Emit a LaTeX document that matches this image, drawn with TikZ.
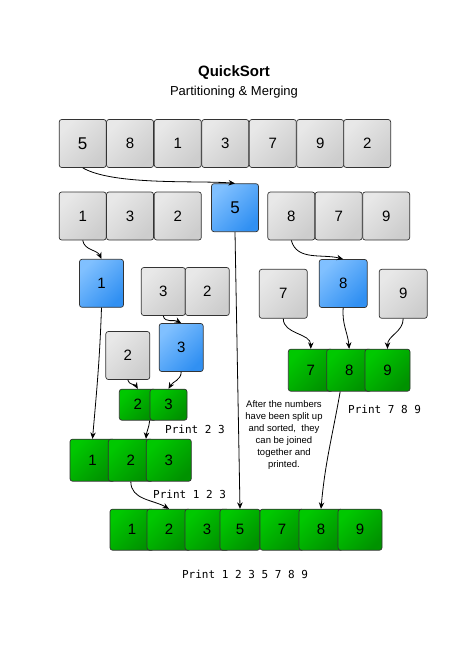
\documentclass[tikz,border=0pt]{standalone}
\usepackage{fontspec}
\setsansfont{Liberation Sans}
\setmonofont{DejaVu Sans Mono}
\usetikzlibrary{arrows.meta}
\definecolor{greylight}{HTML}{E8E8E8}
\definecolor{greydark}{HTML}{CDCDCD}
\definecolor{bluelight}{HTML}{80C0FF}
\definecolor{bluedark}{HTML}{3190F2}
\definecolor{greenlight}{HTML}{00C800}
\definecolor{greendark}{HTML}{009200}
\definecolor{boxline}{HTML}{333333}
\tikzset{
    box/.style={rectangle, rounded corners=2.5pt, draw=boxline, line width=.7pt,
    	inner sep=0pt, font=\sffamily\fontsize{15}{18}\selectfont},
    greybox/.style={box, top color=greylight, bottom color=greydark, shading angle=45},
    bluebox/.style={box, top color=bluelight, bottom color=bluedark, shading angle=45},
    greenbox/.style={box, top color=greenlight, bottom color=greendark, shading angle=45},
    big/.style={font=\sffamily\fontsize{17}{20}\selectfont},
    printout/.style={font=\ttfamily\fontsize{11}{13}\selectfont, inner sep=0pt}
}
\tikzset{
    every edge/.append style={line width=.8pt, -{Stealth[length=6.5pt,width=5.5pt]}}
}

\begin{document}
\begin{tikzpicture}[x=1pt, y=-1pt]
	\useasboundingbox (0,0) rectangle (474,659);
	\node (t1) at (234,73) {\sffamily\bfseries\fontsize{15}{18}\selectfont QuickSort};
	\node (t2) at (234,92) {\sffamily\fontsize{13}{16}\selectfont Partitioning \& Merging};

	\node (a1) [greybox, big, minimum width=47, minimum height=48] at (82.7,143.5) {5};
	\node (a2) [greybox, minimum width=47, minimum height=48] at (130,143.5) {8};
	\node (a3) [greybox, minimum width=47, minimum height=48] at (177.8,143.5) {1};
	\node (a4) [greybox, minimum width=47, minimum height=48] at (225.3,143.5) {3};
	\node (a5) [greybox, minimum width=47, minimum height=48] at (272.8,143.5) {7};
	\node (a6) [greybox, minimum width=47, minimum height=48] at (320.2,143.5) {9};
	\node (a7) [greybox, minimum width=47, minimum height=48] at (367.2,143.5) {2};

	\node (b1) [greybox, minimum width=47, minimum height=48] at (82.7,216) {1};
	\node (b2) [greybox, minimum width=47, minimum height=48] at (130,216) {3};
	\node (b3) [greybox, minimum width=47, minimum height=48] at (177.8,216) {2};
	\node (b4) [bluebox, big, minimum width=47, minimum height=48] at (235,207.7) {5};
	\node (b5) [greybox, minimum width=47, minimum height=48] at (291.3,216) {8};
	\node (b6) [greybox, minimum width=47, minimum height=48] at (338.7,216) {7};
	\node (b7) [greybox, minimum width=47, minimum height=48] at (386.2,216) {9};

	\node (c1) [bluebox, minimum width=44, minimum height=48] at (101.5,283.3) {1};
	\node (c2) [greybox, minimum width=44, minimum height=48] at (163.3,291.5) {3};
	\node (c3) [greybox, minimum width=44, minimum height=48] at (207.3,291.5) {2};
	\node (c4) [greybox, minimum width=48, minimum height=49] at (283.3,293.8) {7};
	\node (c5) [bluebox, minimum width=48, minimum height=48] at (343.2,283.5) {8};
	\node (c6) [greybox, minimum width=48, minimum height=49] at (403.2,293.8) {9};

	\node (d1) [greybox, minimum width=44, minimum height=48] at (127.8,355.5) {2};
	\node (d2) [bluebox, minimum width=44, minimum height=48] at (181.2,347.5) {3};

	\node (e1) [greenbox, minimum width=37, minimum height=31] at (137.8,404.7) {2};
	\node (e2) [greenbox, minimum width=37, minimum height=31] at (168.5,404.7) {3};

	\node (f1) [greenbox, minimum width=45, minimum height=42] at (92.5,460.2) {1};
	\node (f2) [greenbox, minimum width=45, minimum height=42] at (130.8,460.2) {2};
	\node (f3) [greenbox, minimum width=45, minimum height=42] at (168.8,460.2) {3};

	\node (g1) [greenbox, minimum width=45, minimum height=42] at (310.8,370.2) {7};
	\node (g2) [greenbox, minimum width=45, minimum height=42] at (349.2,370.2) {8};
	\node (g3) [greenbox, minimum width=45, minimum height=42] at (387.5,370.2) {9};

	\node (h1) [greenbox, minimum width=44, minimum height=41] at (132,529.7) {1};
	\node (h2) [greenbox, minimum width=44, minimum height=41] at (169,529.7) {2};
	\node (h3) [greenbox, minimum width=44, minimum height=41] at (207,529.7) {3};
	\node (h4) [greenbox, minimum width=40, minimum height=41] at (240,529.7) {5};
	\node (h5) [greenbox, minimum width=44, minimum height=41] at (282,529.7) {7};
	\node (h6) [greenbox, minimum width=44, minimum height=41] at (321,529.7) {8};
	\node (h7) [greenbox, minimum width=44, minimum height=41] at (360,529.7) {9};

	\node (n1) [align=center, font=\sffamily\fontsize{9.5}{12}\selectfont] at (284,435)
		{After the numbers\\have been split up\\and sorted,\ \ they\\can be joined\\together and\\printed.};
	\node (p1) [printout, anchor=west] at (165,429) {Print 2 3};
	\node (p2) [printout, anchor=west] at (348,409) {Print 7 8 9};
	\node (p3) [printout, anchor=west] at (153,494) {Print 1 2 3};
	\node (p4) [printout] at (245,574) {Print 1 2 3 5 7 8 9};

	\draw (a1.south) edge [out=-30,in=175,looseness=.6] (b4.north);
	\draw (b1.south) edge [out=-80,in=115] (c1.north);
	\draw (b5.south) edge [out=-75,in=165] (c5.north);
	\draw (c2.south) edge [out=-80,in=150] (d2.north);
	\draw (d1.south) edge [out=-80,in=120] (e1.north);
	\draw (d2.south) edge [out=-90,in=60] (e2.north);
	\draw (e2.south west) edge [out=-95,in=85] (f3.north west);
	\draw (c1.south) edge [out=-92,in=85] (f1.north);
	\draw (f2.south) edge [out=-90,in=150] (h2.north);
	\draw (b4.south) edge (h4.north);
	\draw (c4.south) edge [out=-90,in=90] (g1.north);
	\draw (c5.south) edge [out=-95,in=95] (g2.north);
	\draw (c6.south) edge [out=-90,in=90] (g3.north);
	\draw ([xshift=-9pt]g2.south) edge [out=-100,in=85] (h6.north);
\end{tikzpicture}
\end{document}
